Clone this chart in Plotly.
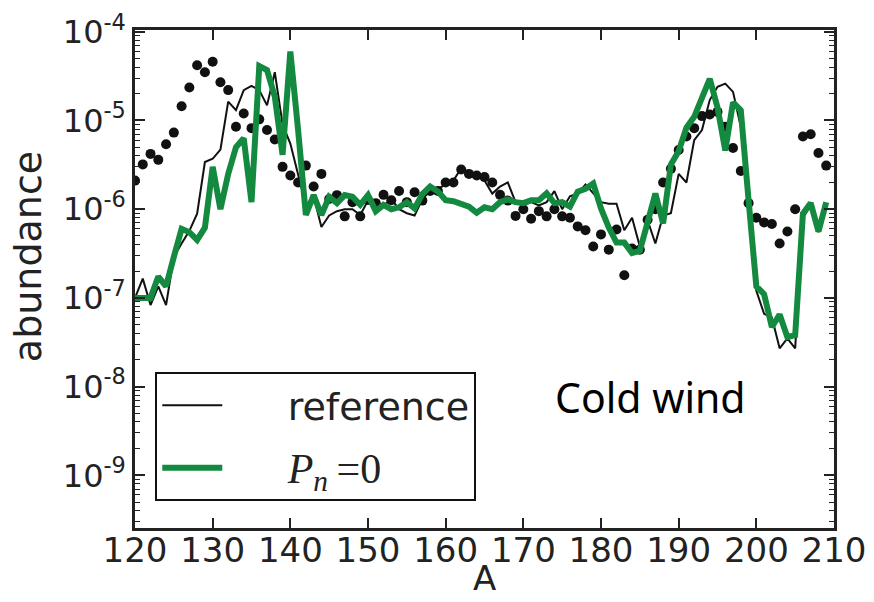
import plotly.graph_objects as go

mass_A = list(range(120, 210))

reference = [
    1.0e-7, 1.65e-7, 8.3e-8, 1.35e-7, 8.3e-8, 2.9e-7, 4.1e-7, 5.7e-7, 8.9e-7, 3.4e-6,
    3.7e-6, 4.7e-6, 1.63e-5, 1.31e-5, 2.2e-5, 2.45e-5, 2.2e-5, 1.48e-5, 3.5e-5, 9.0e-6,
    5.5e-6, 2.5e-6, 1.1e-6, 1.4e-6, 6.3e-7, 8.5e-7, 9.5e-7, 1.0e-6, 1.0e-6, 8.6e-7,
    1.25e-6, 1.2e-6, 1.1e-6, 1.3e-6, 1.0e-6, 9.0e-7, 8.5e-7, 1.3e-6, 1.6e-6, 1.7e-6,
    1.9e-6, 2.1e-6, 2.9e-6, 2.6e-6, 2.4e-6, 2.1e-6, 1.5e-6, 1.8e-6, 2.0e-6, 1.2e-6,
    1.1e-6, 1.2e-6, 1.1e-6, 1.2e-6, 1.6e-6, 1.0e-6, 1.4e-6, 1.5e-6, 1.9e-6, 1.5e-6,
    1.2e-6, 1.15e-6, 1.15e-6, 5.8e-7, 8.0e-7, 3.8e-7, 7.5e-7, 4.1e-7, 8.5e-7, 9.0e-7,
    2.5e-6, 2.0e-6, 6.0e-6, 7.8e-6, 1.7e-5, 2.4e-5, 2.6e-5, 2.1e-5, 8.5e-6, 1.0e-6,
    1.2e-7, 6.6e-8, 6.0e-8, 2.7e-8, 3.5e-8, 2.7e-8, 8.0e-7, 1.1e-6, 5.5e-7, 1.1e-6,
]

pn_zero = [
    1.0e-7, 1.0e-7, 1.0e-7, 1.74e-7, 1.35e-7, 2.9e-7, 6.0e-7, 5.5e-7, 4.5e-7, 6.2e-7,
    3.0e-6, 1.0e-6, 2.5e-6, 5.0e-6, 6.3e-6, 1.2e-6, 4.1e-5, 3.7e-5, 1.86e-5, 4.1e-6,
    6.0e-5, 7.8e-6, 8.6e-7, 1.44e-6, 8.6e-7, 1.38e-6, 1.17e-6, 1.44e-6, 1.38e-6, 1.12e-6,
    1.44e-6, 9.5e-7, 1.12e-6, 1.0e-6, 1.05e-6, 1.2e-6, 1.02e-6, 1.48e-6, 1.8e-6, 1.58e-6,
    1.26e-6, 1.23e-6, 1.15e-6, 1.07e-6, 9.1e-7, 1.05e-6, 1.0e-6, 1.2e-6, 1.29e-6, 1.2e-6,
    1.17e-6, 1.26e-6, 1.26e-6, 1.51e-6, 1.17e-6, 1.2e-6, 1.07e-6, 1.58e-6, 1.7e-6, 1.95e-6,
    1.02e-6, 6.2e-7, 4.2e-7, 4.2e-7, 3.2e-7, 3.4e-7, 7.1e-7, 1.5e-6, 6.9e-7, 3.2e-6,
    4.5e-6, 8.3e-6, 1.1e-5, 1.8e-5, 2.95e-5, 1.4e-5, 4.6e-6, 1.6e-5, 1.3e-5, 1.26e-6,
    1.35e-7, 1.1e-7, 4.7e-8, 6.5e-8, 3.6e-8, 3.8e-8, 8.9e-7, 1.17e-6, 5.6e-7, 1.2e-6,
]

solar = [
    2.1e-6, 3.2e-6, 4.2e-6, 3.6e-6, 5.4e-6, 7.3e-6, 1.45e-5, 2.35e-5, 4.2e-5, 3.5e-5,
    4.6e-5, 2.7e-5, 2.2e-5, 8.5e-6, 1.2e-5, 8.2e-6, 1.03e-5, 7.8e-6, 6.1e-6, 3.0e-6,
    2.4e-6, 2.0e-6, 3.1e-6, 1.8e-6, 2.5e-6, 1.3e-6, 1.44e-6, 8.3e-7, 1.2e-6, 8.3e-7,
    1.27e-6, 1.17e-6, 1.45e-6, 1.26e-6, 1.6e-6, 1.2e-6, 1.55e-6, 1.25e-6, 1.6e-6, 1.6e-6,
    2.0e-6, 2.0e-6, 2.8e-6, 2.5e-6, 2.4e-6, 2.3e-6, 2.0e-6, 1.45e-6, 1.25e-6, 8.4e-7,
    1.0e-6, 7.8e-7, 9.5e-7, 8.3e-7, 1.0e-6, 8.3e-7, 8.0e-7, 6.4e-7, 5.8e-7, 3.8e-7,
    5.2e-7, 3.5e-7, 5.9e-7, 1.8e-7, 3.6e-7, 3.5e-7, 7.6e-7, 1.0e-6, 2.0e-6, 2.85e-6,
    4.65e-6, 6.6e-6, 8.2e-6, 1.12e-5, 1.17e-5, 1.25e-5, 8.5e-6, 4.9e-6, 2.7e-6, 1.17e-6,
    8.0e-7, 7.1e-7, 6.8e-7, 4.1e-7, 5.6e-7, 1.0e-6, 6.6e-6, 7.0e-6, 4.3e-6, 3.1e-6,
]

x_ticks = [120, 130, 140, 150, 160, 170, 180, 190, 200, 210]
y_exponents = [-9, -8, -7, -6, -5, -4]
y_tickvals = [10.0 ** e for e in y_exponents]
y_ticktext = ["10<sup>%d</sup>" % e for e in y_exponents]
y_minor = [m * 10.0 ** e for e in range(-10, -3) for m in range(2, 10)]

GREEN = "#138a3f"
INK = "#222222"
XTICKFONT = dict(family="DejaVu Sans", size=34, color=INK)
YTICKFONT = dict(family="DejaVu Sans", size=32, color=INK)
NB = "\u00a0" * 5

fig = go.Figure()
fig.add_trace(go.Scatter(
    x=mass_A, y=solar, mode="markers",
    marker=dict(color="#111111", size=10), showlegend=False))
fig.add_trace(go.Scatter(
    x=mass_A, y=reference, mode="lines", name=NB + "reference",
    line=dict(color="#111111", width=2), legendgroup="a"))
fig.add_trace(go.Scatter(
    x=mass_A, y=pn_zero, mode="lines",
    name=NB + "<span style='font-family:Liberation Serif;font-size:42px'><i>P</i><sub><i>n</i></sub>\u2009=0</span>",
    line=dict(color=GREEN, width=6), legendgroup="b"))

fig.update_layout(
    width=874, height=602,
    margin=dict(l=135, r=40, t=30, b=74, autoexpand=False),
    paper_bgcolor="white", plot_bgcolor="white",
    showlegend=True,
    legend=dict(
        x=0.029, y=0.313, xanchor="left", yanchor="top",
        bordercolor="#111111", borderwidth=2, bgcolor="white",
        font=dict(family="DejaVu Sans", size=38, color=INK),
        tracegroupgap=10, traceorder="grouped", itemwidth=60,
    ),
    annotations=[
        dict(text="Cold wind", xref="paper", yref="paper", x=0.737, y=0.263,
             xanchor="center", yanchor="middle",
             showarrow=False, font=dict(family="Noto Sans", size=41, color="black")),
        dict(text="abundance", xref="paper", yref="paper", x=-0.153, y=0.544,
             xanchor="center", yanchor="middle", textangle=-90,
             showarrow=False, font=dict(family="DejaVu Sans", size=38, color=INK)),
        dict(text="A", xref="paper", yref="paper", x=0.5, y=-0.10,
             xanchor="center", yanchor="middle", showarrow=False, font=XTICKFONT),
    ],
)

fig.update_xaxes(
    range=[120, 210], tickvals=x_ticks, ticks="inside", ticklen=10, tickwidth=1.5,
    tickcolor=INK, showline=True, linecolor=INK, linewidth=2.5, automargin=False,
    mirror="allticks", showgrid=False, zeroline=False, tickfont=XTICKFONT,
    ticklabelstandoff=-10,
)
fig.update_yaxes(
    type="log", range=[-9.594, -3.98], tickvals=y_tickvals, ticktext=y_ticktext,
    ticks="inside", ticklen=10, tickwidth=1.5, tickcolor=INK, automargin=False,
    minor=dict(tickvals=y_minor, ticks="inside", ticklen=5, tickcolor=INK, tickwidth=1),
    showline=True, linecolor=INK, linewidth=2.5, mirror="allticks",
    showgrid=False, zeroline=False, tickfont=YTICKFONT,
)

fig.write_html("out.html")
